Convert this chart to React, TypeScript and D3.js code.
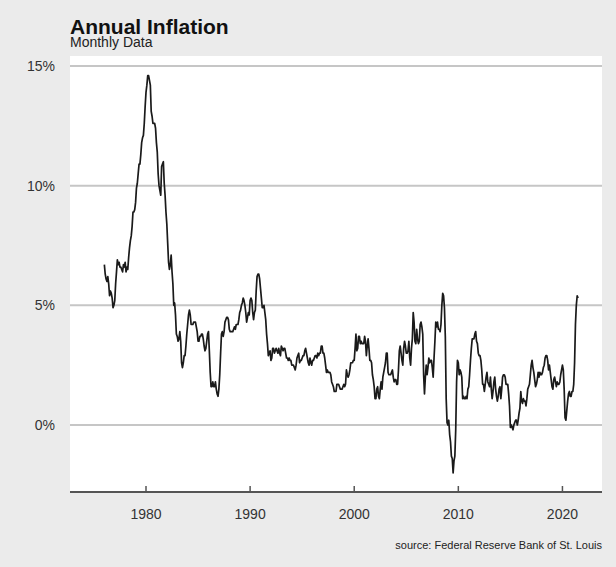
import React from "react";
import * as d3 from "d3";

const title = "Annual Inflation";
const subtitle = "Monthly Data";
const source = "source: Federal Reserve Bank of St. Louis";

const startYear = 1976;
// Year-over-year CPI inflation, %, monthly from Jan 1976
const inflation: number[] = [
  // 1976
  6.7, 6.3, 6.1, 6.0, 6.2, 5.9, 5.4, 5.6, 5.5, 5.3, 4.9, 5.0,
  // 1977
  5.2, 5.9, 6.4, 6.9, 6.7, 6.8, 6.6, 6.6, 6.5, 6.4, 6.7, 6.6,
  // 1978
  6.8, 6.4, 6.6, 6.5, 7.0, 7.4, 7.7, 7.9, 8.3, 8.9, 8.9, 9.0,
  // 1979
  9.3, 9.9, 10.1, 10.5, 10.9, 10.9, 11.3, 11.8, 12.0, 12.1, 12.6, 13.3,
  // 1980
  13.9, 14.2, 14.6, 14.6, 14.4, 14.2, 13.1, 12.9, 12.6, 12.6, 12.6, 12.4,
  // 1981
  11.8, 11.4, 10.5, 10.0, 9.8, 9.6, 10.8, 10.9, 11.0, 10.1, 9.6, 8.9,
  // 1982
  8.4, 7.6, 6.8, 6.5, 6.7, 7.1, 6.4, 5.9, 5.0, 5.1, 4.6, 3.8,
  // 1983
  3.7, 3.5, 3.6, 3.9, 3.5, 2.6, 2.4, 2.6, 2.9, 2.9, 3.3, 3.8,
  // 1984
  4.2, 4.6, 4.8, 4.6, 4.2, 4.2, 4.2, 4.3, 4.3, 4.3, 4.1, 3.9,
  // 1985
  3.5, 3.5, 3.7, 3.7, 3.8, 3.8, 3.6, 3.3, 3.1, 3.2, 3.5, 3.8,
  // 1986
  3.9, 3.1, 2.2, 1.6, 1.6, 1.8, 1.6, 1.6, 1.8, 1.5, 1.3, 1.2,
  // 1987
  1.5, 2.1, 3.0, 3.8, 3.9, 3.7, 3.9, 4.3, 4.4, 4.5, 4.5, 4.4,
  // 1988
  4.0, 3.9, 3.9, 3.9, 3.9, 4.0, 4.1, 4.0, 4.2, 4.2, 4.2, 4.4,
  // 1989
  4.7, 4.8, 5.0, 5.1, 5.3, 5.2, 5.0, 4.7, 4.3, 4.5, 4.7, 4.6,
  // 1990
  5.2, 5.3, 5.2, 4.7, 4.4, 4.7, 4.8, 5.6, 6.2, 6.3, 6.3, 6.1,
  // 1991
  5.7, 5.3, 4.9, 4.9, 5.0, 4.7, 4.4, 3.8, 3.4, 2.9, 3.0, 3.1,
  // 1992
  2.7, 2.8, 3.2, 3.2, 3.0, 3.1, 3.2, 3.1, 3.0, 3.2, 3.0, 2.9,
  // 1993
  3.3, 3.2, 3.1, 3.2, 3.2, 3.0, 2.8, 2.8, 2.7, 2.8, 2.7, 2.7,
  // 1994
  2.5, 2.5, 2.5, 2.4, 2.3, 2.5, 2.8, 2.9, 3.0, 2.6, 2.7, 2.7,
  // 1995
  2.8, 2.9, 2.9, 3.1, 3.2, 3.0, 2.8, 2.6, 2.5, 2.8, 2.6, 2.5,
  // 1996
  2.7, 2.7, 2.8, 2.9, 2.9, 2.8, 3.0, 2.9, 3.0, 3.0, 3.3, 3.3,
  // 1997
  3.0, 3.0, 2.8, 2.5, 2.2, 2.3, 2.2, 2.2, 2.2, 2.1, 1.8, 1.7,
  // 1998
  1.6, 1.4, 1.4, 1.4, 1.7, 1.7, 1.7, 1.6, 1.5, 1.5, 1.5, 1.6,
  // 1999
  1.7, 1.6, 1.7, 2.3, 2.1, 2.0, 2.1, 2.3, 2.6, 2.6, 2.6, 2.7,
  // 2000
  2.7, 3.2, 3.8, 3.1, 3.2, 3.7, 3.7, 3.4, 3.5, 3.4, 3.4, 3.4,
  // 2001
  3.7, 3.5, 2.9, 3.3, 3.6, 3.2, 2.7, 2.7, 2.6, 2.1, 1.9, 1.6,
  // 2002
  1.1, 1.1, 1.5, 1.6, 1.2, 1.1, 1.5, 1.8, 1.5, 2.0, 2.2, 2.4,
  // 2003
  2.6, 3.0, 3.0, 2.2, 2.1, 2.1, 2.1, 2.2, 2.3, 2.0, 1.8, 1.9,
  // 2004
  1.9, 1.7, 1.7, 2.3, 3.1, 3.3, 3.0, 2.7, 2.5, 3.2, 3.5, 3.3,
  // 2005
  3.0, 3.0, 3.1, 3.5, 2.8, 2.5, 3.2, 3.6, 4.7, 4.3, 3.5, 3.4,
  // 2006
  4.0, 3.6, 3.4, 3.5, 4.2, 4.3, 4.1, 3.8, 2.1, 1.3, 2.0, 2.5,
  // 2007
  2.1, 2.4, 2.8, 2.6, 2.7, 2.7, 2.4, 2.0, 2.8, 3.5, 4.3, 4.1,
  // 2008
  4.3, 4.0, 4.0, 3.9, 4.2, 5.0, 5.5, 5.4, 4.9, 3.7, 1.1, 0.1,
  // 2009
  0.0, 0.2, -0.4, -0.7, -1.3, -1.4, -2.0, -1.5, -1.3, -0.2, 1.8, 2.7,
  // 2010
  2.6, 2.1, 2.3, 2.2, 2.0, 1.1, 1.2, 1.1, 1.1, 1.2, 1.1, 1.5,
  // 2011
  1.6, 2.1, 2.7, 3.2, 3.6, 3.6, 3.6, 3.8, 3.9, 3.5, 3.4, 3.0,
  // 2012
  2.9, 2.9, 2.7, 2.3, 1.7, 1.7, 1.4, 1.7, 2.0, 2.2, 1.8, 1.7,
  // 2013
  1.6, 2.0, 1.5, 1.1, 1.4, 1.8, 2.0, 1.5, 1.2, 1.0, 1.2, 1.5,
  // 2014
  1.6, 1.1, 1.5, 2.0, 2.1, 2.1, 2.0, 1.7, 1.7, 1.7, 1.3, 0.8,
  // 2015
  -0.1, 0.0, -0.1, -0.2, 0.0, 0.1, 0.2, 0.2, 0.0, 0.2, 0.5, 0.7,
  // 2016
  1.4, 1.0, 0.9, 1.1, 1.0, 1.0, 0.8, 1.1, 1.5, 1.6, 1.7, 2.1,
  // 2017
  2.5, 2.7, 2.4, 2.2, 1.9, 1.6, 1.7, 1.9, 2.2, 2.0, 2.2, 2.1,
  // 2018
  2.1, 2.2, 2.4, 2.5, 2.8, 2.9, 2.9, 2.7, 2.3, 2.5, 2.2, 1.9,
  // 2019
  1.6, 1.5, 1.9, 2.0, 1.8, 1.6, 1.8, 1.7, 1.7, 1.8, 2.1, 2.3,
  // 2020
  2.5, 2.3, 1.5, 0.3, 0.2, 0.6, 1.0, 1.3, 1.4, 1.2, 1.2, 1.4,
  // 2021
  1.4, 1.7, 2.6, 4.2, 5.0, 5.4, 5.3,
];

const yTicks = [0, 5, 10, 15];
const xTicks = [1980, 1990, 2000, 2010, 2020];

const W = 616;
const H = 567;
const panel = { left: 70, right: 602, top: 56, bottom: 492 };
const FONT = "Liberation Sans, Arial, Helvetica, sans-serif";

export default function App() {
  const x = d3.scaleLinear().domain([1972.7, 2023.8]).range([panel.left, panel.right]);
  const y = d3.scaleLinear().domain([0, 15]).range([425, 66]);

  const pts = inflation.map((v, i) => ({ t: startYear + i / 12, v }));
  const line = d3
    .line<{ t: number; v: number }>()
    .x((d) => x(d.t))
    .y((d) => y(d.v));

  return (
    <svg
      width={W}
      height={H}
      style={{ position: "absolute", left: 0, top: 0, display: "block" }}
      fontFamily={FONT}
    >
      <rect x={0} y={0} width={W} height={H} fill="#ebebeb" />
      <rect
        x={panel.left}
        y={panel.top}
        width={panel.right - panel.left}
        height={panel.bottom - panel.top}
        fill="#ffffff"
      />
      {yTicks.map((t) => (
        <g key={t}>
          <line
            x1={panel.left}
            x2={panel.right}
            y1={y(t)}
            y2={y(t)}
            stroke="#c6c6c6"
            strokeWidth={2}
          />
          <text
            x={55}
            y={y(t)}
            dy="0.36em"
            textAnchor="end"
            fontSize={14}
            fill="#333"
          >
            {t}%
          </text>
        </g>
      ))}
      <path d={line(pts) || ""} fill="none" stroke="#1a1a1a" strokeWidth={1.7} strokeLinejoin="round" />
      <line
        x1={panel.left}
        x2={panel.right}
        y1={panel.bottom}
        y2={panel.bottom}
        stroke="#555"
        strokeWidth={2}
      />
      {xTicks.map((t) => (
        <g key={t}>
          <line x1={x(t)} x2={x(t)} y1={panel.bottom} y2={panel.bottom - 6} stroke="#555" strokeWidth={1.5} />
          <text x={x(t)} y={519} textAnchor="middle" fontSize={14} fill="#333">
            {t}
          </text>
        </g>
      ))}
      <text x={70} y={34} fontSize={21} fontWeight="bold" fill="#111">
        {title}
      </text>
      <text x={70} y={47} fontSize={14} fill="#222">
        {subtitle}
      </text>
      <text x={602} y={549} textAnchor="end" fontSize={11} fill="#222">
        {source}
      </text>
    </svg>
  );
}
